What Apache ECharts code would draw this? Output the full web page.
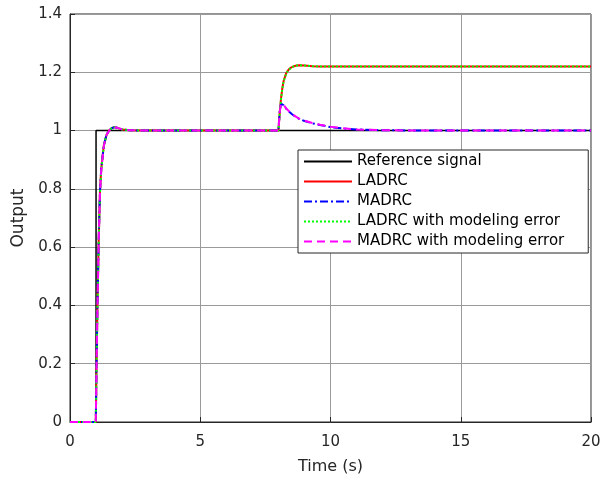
<!DOCTYPE html>
<html>
<head>
<meta charset="utf-8">
<script src="https://cdn.jsdelivr.net/npm/echarts@6/dist/echarts.min.js"></script>
<style>html,body{margin:0;padding:0;background:#fff}#c{width:615px;height:478px}</style>
</head>
<body>
<div id="c"></div>
<script>
var refTime = [0, 1, 1, 20];
var refValue = [0, 0, 1, 1];
var time = [0,0.99,1.0,1.02,1.05,1.1,1.15,1.2,1.3,1.4,1.5,1.6,1.7,1.8,2.0,2.3,3,8.0,8.05,8.1,8.15,8.2,8.3,8.4,8.5,8.6,8.7,8.8,9.0,9.3,9.6,10,10.5,11,12,14,20];
var ladrc = [0,0,0,0.2,0.38,0.62,0.79,0.87,0.95,0.985,1.0,1.008,1.012,1.01,1.004,1.001,1.0,1.0,1.06,1.11,1.145,1.17,1.197,1.21,1.217,1.221,1.223,1.224,1.223,1.221,1.22,1.22,1.22,1.22,1.22,1.22,1.22];
var madrc = [0,0,0,0.2,0.38,0.62,0.79,0.87,0.95,0.985,1.0,1.008,1.012,1.01,1.004,1.001,1.0,1.0,1.065,1.093,1.092,1.087,1.075,1.066,1.058,1.051,1.045,1.04,1.033,1.025,1.019,1.012,1.007,1.004,1.001,1.0,1.0];
var ladrcErr = [0,0,0,0.19,0.37,0.61,0.78,0.865,0.948,0.984,0.999,1.008,1.012,1.01,1.004,1.001,1.0,1.0,1.058,1.108,1.143,1.168,1.196,1.209,1.216,1.221,1.223,1.224,1.223,1.221,1.22,1.22,1.22,1.22,1.22,1.22,1.22];
var madrcErr = [0,0,0,0.19,0.37,0.61,0.78,0.865,0.948,0.984,0.999,1.008,1.012,1.01,1.004,1.001,1.0,1.0,1.063,1.092,1.092,1.088,1.076,1.067,1.059,1.052,1.046,1.041,1.034,1.026,1.02,1.013,1.008,1.004,1.001,1.0,1.0];
var xTicks = [0, 5, 10, 15, 20];
var yTicks = [0, 0.2, 0.4, 0.6, 0.8, 1, 1.2, 1.4];
var names = ['Reference signal', 'LADRC', 'MADRC', 'LADRC with modeling error', 'MADRC with modeling error'];

function pairs(xs, ys) { return xs.map(function (x, i) { return [x, ys[i]]; }); }
var font = '"DejaVu Sans", sans-serif';
var chart = echarts.init(document.getElementById('c'));
chart.setOption({
  animation: false,
  backgroundColor: '#fff',
  textStyle: { fontFamily: font },
  grid: { left: 70, right: 24, top: 14, bottom: 56, outerBoundsMode: 'none', containLabel: false, show: true, borderColor: '#262626', borderWidth: 1, backgroundColor: 'transparent' },
  legend: {
    orient: 'vertical', left: 298, top: 150,
    padding: [4, 24, 4, 5], itemGap: 5, itemWidth: 48, itemHeight: 14,
    backgroundColor: '#fff', borderColor: '#262626', borderWidth: 1, borderRadius: 0,
    itemStyle: { opacity: 0 },
    textStyle: { fontSize: 15, color: '#000', fontFamily: font },
    data: names
  },
  xAxis: {
    type: 'value', min: xTicks[0], max: xTicks[xTicks.length - 1], interval: 5,
    name: 'Time (s)', nameLocation: 'middle', nameGap: 37,
    nameTextStyle: { fontSize: 16, color: '#262626', fontFamily: font },
    axisLine: { show: true, lineStyle: { color: '#262626' } },
    axisTick: { show: true, inside: true, length: 5, lineStyle: { color: '#262626' } },
    axisLabel: { fontSize: 15, color: '#262626', margin: 13, fontFamily: font },
    splitLine: { show: true, lineStyle: { color: '#9a9a9a', width: 1 } }
  },
  yAxis: {
    type: 'value', min: yTicks[0], max: yTicks[yTicks.length - 1], interval: 0.2,
    name: 'Output', nameLocation: 'middle', nameGap: 31, nameRotate: 90,
    nameTextStyle: { fontSize: 17, color: '#262626', fontFamily: font },
    axisLine: { show: true, lineStyle: { color: '#262626' } },
    axisTick: { show: true, inside: true, length: 5, lineStyle: { color: '#262626' } },
    axisLabel: { fontSize: 15, color: '#262626', margin: 8, fontFamily: font, formatter: function (v) { return String(Math.round(v * 10) / 10); } },
    splitLine: { show: true, lineStyle: { color: '#9a9a9a', width: 1 } }
  },
  series: [
    { name: names[0], type: 'line', symbol: 'none', data: pairs(refTime, refValue), lineStyle: { color: '#000000', width: 1.5 }, itemStyle: { color: '#000000' } },
    { name: names[1], type: 'line', symbol: 'none', data: pairs(time, ladrc), lineStyle: { color: '#ff0000', width: 2 }, itemStyle: { color: '#ff0000' } },
    { name: names[2], type: 'line', symbol: 'none', data: pairs(time, madrc), lineStyle: { color: '#0000ff', width: 2, type: [8, 3, 2, 3] }, itemStyle: { color: '#0000ff' } },
    { name: names[3], type: 'line', symbol: 'none', data: pairs(time, ladrcErr), lineStyle: { color: '#00ff00', width: 2, type: [2, 2] }, itemStyle: { color: '#00ff00' } },
    { name: names[4], type: 'line', symbol: 'none', data: pairs(time, madrcErr), lineStyle: { color: '#ff00ff', width: 2, type: [8, 5] }, itemStyle: { color: '#ff00ff' } }
  ]
});
</script>
</body>
</html>
